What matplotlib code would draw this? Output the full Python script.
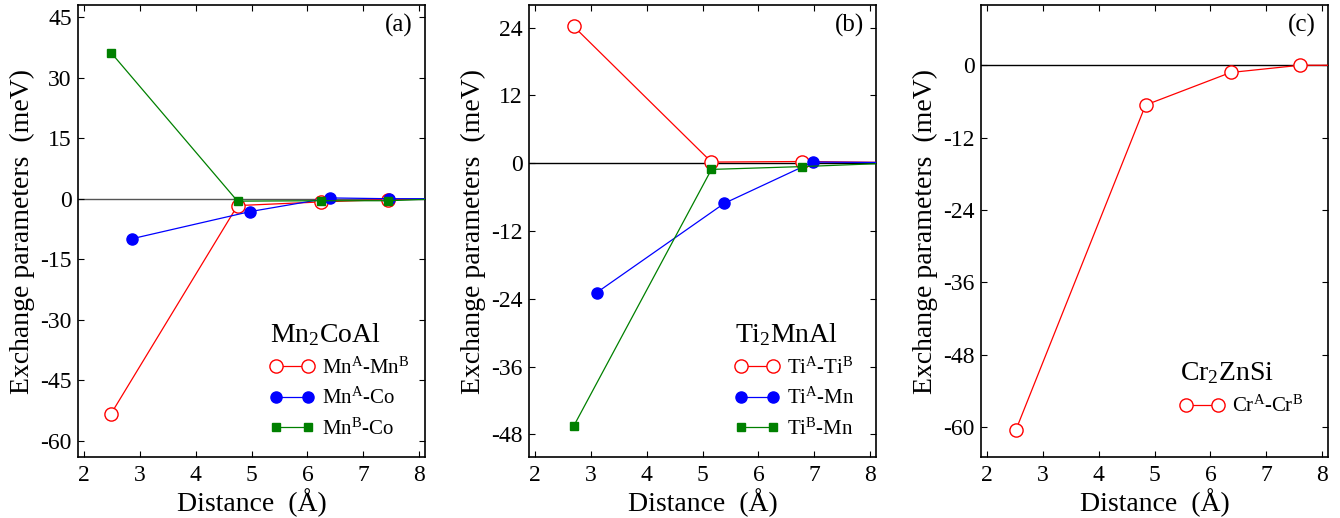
import matplotlib
matplotlib.use("Agg")
import matplotlib.pyplot as plt

plt.rcParams['font.family'] = ['Liberation Serif', 'DejaVu Serif']
plt.rcParams['mathtext.fontset'] = 'custom'
plt.rcParams['mathtext.rm'] = 'Liberation Serif'
plt.rcParams['mathtext.it'] = 'Liberation Serif:italic'
plt.rcParams['axes.unicode_minus'] = False

# (a) Mn2CoAl
a_mnmn_x = [2.49, 4.75, 6.24, 7.44, 8.6]
a_mnmn_y = [-53.3, -1.7, -0.8, -0.2, -0.1]
a_mnco_x = [2.87, 4.97, 6.40, 7.45, 8.6]
a_mnco_y = [-9.9, -3.2, 0.2, 0.0, 0.0]
a_mnbco_x = [2.49, 4.75, 6.24, 7.44, 8.6]
a_mnbco_y = [36.2, -0.6, -0.5, -0.5, 0.1]

# (b) Ti2MnAl
b_titi_x = [2.70, 5.16, 6.78, 8.6]
b_titi_y = [24.2, 0.2, 0.3, 0.1]
b_timn_x = [3.11, 5.39, 6.97, 8.6]
b_timn_y = [-22.9, -7.1, 0.2, 0.1]
b_tibmn_x = [2.70, 5.16, 6.78, 8.6]
b_tibmn_y = [-46.5, -1.1, -0.6, 0.1]

# (c) Cr2ZnSi
c_crcr_x = [2.52, 4.84, 6.36, 7.60, 8.6]
c_crcr_y = [-60.6, -6.6, -1.2, 0.0, 0.0]

fig = plt.figure(figsize=(13.4, 5.18), dpi=100)
w, h = 347 / 1340, 452 / 518
bottom = 61 / 518
ax_a = fig.add_axes([78 / 1340, bottom, w, h])
ax_b = fig.add_axes([529 / 1340, bottom, w, h])
ax_c = fig.add_axes([981 / 1340, bottom, w, h])

red = dict(color='red', marker='o', mfc='white', mec='red', ms=9.5, lw=0.9, mew=1.0)
blue = dict(color='blue', marker='o', mfc='blue', mec='blue', ms=8, lw=0.9)
green = dict(color='green', marker='s', mfc='green', mec='green', ms=6, lw=0.9)


def style(ax, ylim, yticks, tag, zero_color='k'):
    ax.axhline(0, color=zero_color, lw=1.0, zorder=1)
    ax.set_xlim(1.9, 8.1)
    ax.set_ylim(*ylim)
    ax.set_xticks(range(2, 9))
    ax.set_yticks(yticks)
    ax.tick_params(direction='in', top=True, right=True, length=4, width=0.8,
                   labelsize=17)
    ax.tick_params(axis='y', pad=4.5)
    ax.tick_params(axis='x', pad=5.5)
    for s in ax.spines.values():
        s.set_linewidth(1.2)
    ax.set_xlabel('Distance  (Å)', fontsize=20, labelpad=2)
    ax.set_ylabel('Exchange parameters  (meV)', fontsize=20, labelpad=4)
    ax.text(0.965, 0.955, tag, transform=ax.transAxes, ha='right', va='center',
            fontsize=18)


def legend(ax, title, anchor):
    leg = ax.legend(loc='lower left', bbox_to_anchor=anchor, frameon=False,
                    numpoints=2, handlelength=2.1, fontsize=15, title=title,
                    title_fontsize=20, labelspacing=0.45, handletextpad=0.4,
                    borderaxespad=0)
    leg._legend_box.align = 'left'


ax_a.plot(a_mnmn_x, a_mnmn_y, label='Mn$^{\\mathrm{A}}$-Mn$^{\\mathrm{B}}$', zorder=3, **red)
ax_a.plot(a_mnco_x, a_mnco_y, label='Mn$^{\\mathrm{A}}$-Co', zorder=4, **blue)
ax_a.plot(a_mnbco_x, a_mnbco_y, label='Mn$^{\\mathrm{B}}$-Co', zorder=5, **green)
style(ax_a, (-64, 48), range(-60, 46, 15), '(a)', zero_color='#555555')
legend(ax_a, 'Mn$_2$CoAl', (0.53, 0.02))

ax_b.plot(b_titi_x, b_titi_y, label='Ti$^{\\mathrm{A}}$-Ti$^{\\mathrm{B}}$', zorder=3, **red)
ax_b.plot(b_timn_x, b_timn_y, label='Ti$^{\\mathrm{A}}$-Mn', zorder=4, **blue)
ax_b.plot(b_tibmn_x, b_tibmn_y, label='Ti$^{\\mathrm{B}}$-Mn', zorder=5, **green)
style(ax_b, (-52, 28), range(-48, 25, 12), '(b)')
legend(ax_b, 'Ti$_2$MnAl', (0.57, 0.02))

ax_c.plot(c_crcr_x, c_crcr_y, label='Cr$^{\\mathrm{A}}$-Cr$^{\\mathrm{B}}$', zorder=3, **red)
style(ax_c, (-65, 10), range(-60, 1, 12), '(c)')
legend(ax_c, 'Cr$_2$ZnSi', (0.55, 0.07))

fig.savefig('out.png', dpi=100)
